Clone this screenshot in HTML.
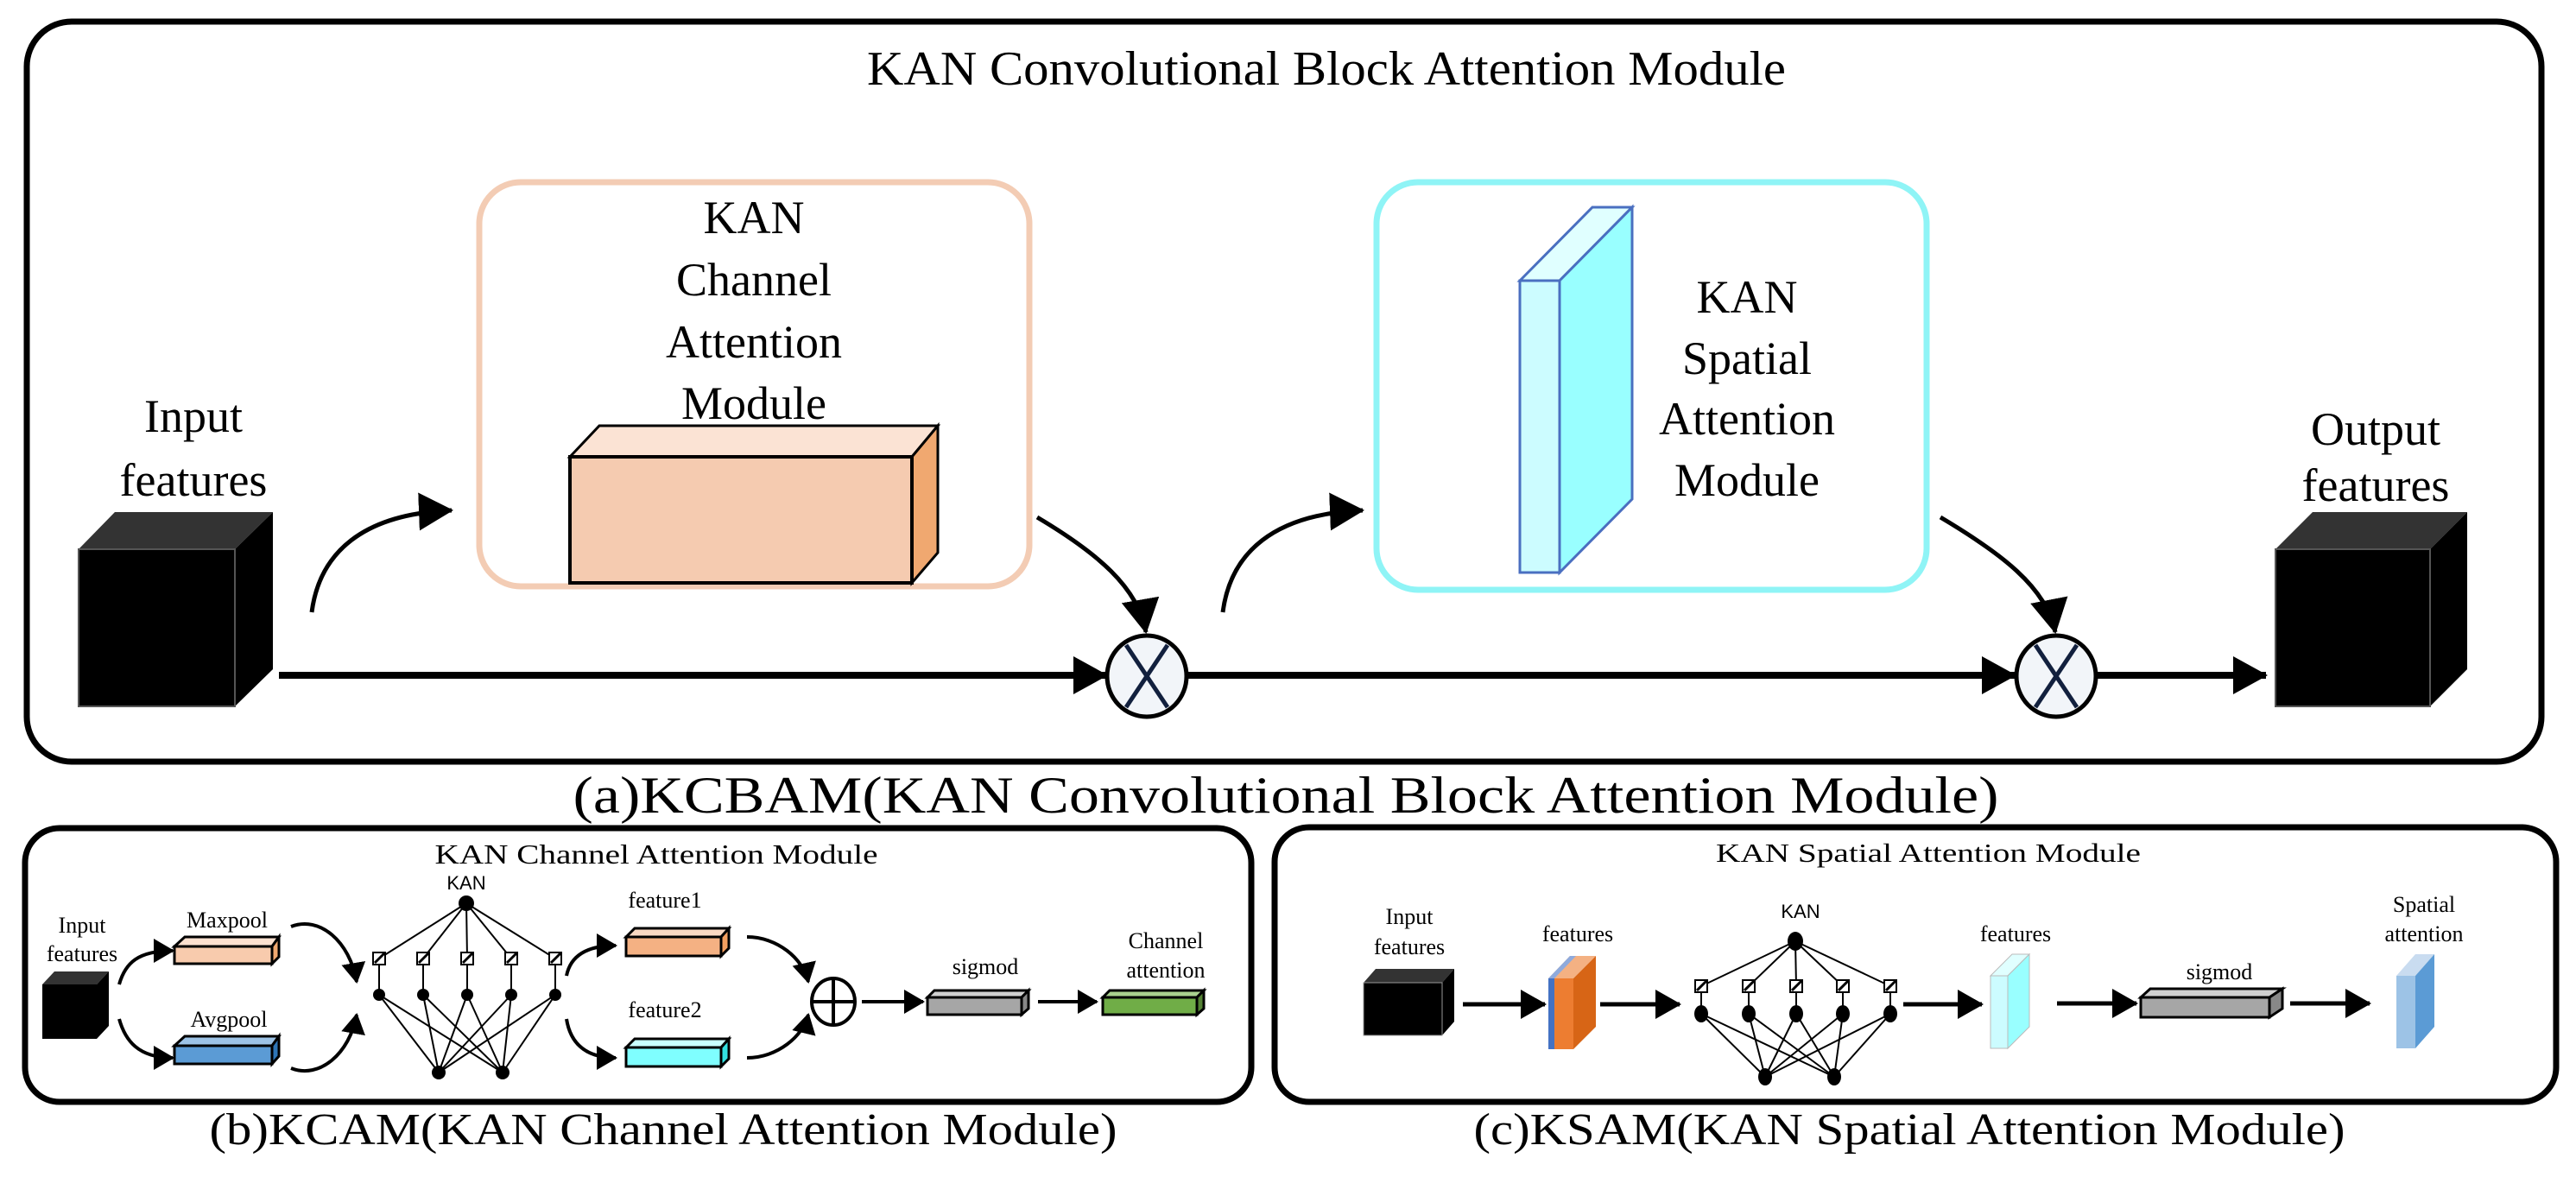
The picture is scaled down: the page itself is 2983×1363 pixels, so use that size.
<!DOCTYPE html>
<html><head><meta charset="utf-8"><style>
html,body{margin:0;padding:0;background:#fff}
svg{display:block}
text{font-family:"Liberation Serif",serif;fill:#000}
.s{font-family:"Liberation Sans",sans-serif}
</style></head><body>
<svg width="2983" height="1363" viewBox="0 0 2983 1363" xmlns="http://www.w3.org/2000/svg">
<defs>
<marker id="big" markerUnits="userSpaceOnUse" markerWidth="40" markerHeight="44" refX="38" refY="22" orient="auto"><path d="M0,0 L40,22 L0,44 z" fill="#000"/></marker>
<marker id="sm" markerUnits="userSpaceOnUse" markerWidth="24" markerHeight="28" refX="22" refY="14" orient="auto"><path d="M0,0 L24,14 L0,28 z" fill="#000"/></marker>
<marker id="md" markerUnits="userSpaceOnUse" markerWidth="30" markerHeight="34" refX="28" refY="17" orient="auto"><path d="M0,0 L30,17 L0,34 z" fill="#000"/></marker>
</defs>

<!-- (a) outer -->
<rect x="31" y="25" width="2912" height="857" rx="52" fill="#fff" stroke="#000" stroke-width="7"/>
<text x="1536" y="98" font-size="56" text-anchor="middle" textLength="1064" lengthAdjust="spacingAndGlyphs">KAN Convolutional Block Attention Module</text>

<!-- channel box -->
<rect x="555" y="211" width="637" height="468" rx="48" fill="#fff" stroke="#f3ccb4" stroke-width="7"/>
<g font-size="54" text-anchor="middle">
<text x="873" y="270">KAN</text><text x="873" y="342">Channel</text><text x="873" y="414">Attention</text><text x="873" y="485">Module</text>
</g>
<polygon points="660,529 694,493 1086,493 1056,529" fill="#fbe3d4" stroke="#000" stroke-width="3"/>
<polygon points="1056,529 1086,493 1086,640 1056,675" fill="#f0a870" stroke="#000" stroke-width="3"/>
<rect x="660" y="529" width="396" height="146" fill="#f5cbb0" stroke="#000" stroke-width="4"/>

<!-- spatial box -->
<rect x="1594" y="211" width="637" height="472" rx="48" fill="#fff" stroke="#8ff4f6" stroke-width="7"/>
<polygon points="1760,325 1844,240 1890,240 1806,325" fill="#e0ffff" stroke="#4a6fc0" stroke-width="3"/>
<polygon points="1806,325 1890,240 1890,578 1806,663" fill="#99ffff" stroke="#4a6fc0" stroke-width="3"/>
<rect x="1760" y="325" width="46" height="338" fill="#ccfcff" stroke="#4a6fc0" stroke-width="3"/>
<g font-size="54" text-anchor="middle">
<text x="2023" y="362">KAN</text><text x="2023" y="433">Spatial</text><text x="2023" y="503">Attention</text><text x="2023" y="574">Module</text>
</g>

<!-- input/output cubes -->
<g font-size="54" text-anchor="middle">
<text x="224" y="500">Input</text><text x="224" y="574">features</text>
<text x="2751" y="515">Output</text><text x="2751" y="580">features</text>
</g>
<polygon points="91,636 133,593 316,593 272,636" fill="#333"/>
<polygon points="272,636 316,593 316,775 272,818" fill="#000"/>
<rect x="91" y="636" width="181" height="182" fill="#000" stroke="#555" stroke-width="2"/>
<polygon points="2635,636 2678,593 2857,593 2814,636" fill="#333"/>
<polygon points="2814,636 2857,593 2857,775 2814,818" fill="#000"/>
<rect x="2635" y="636" width="179" height="182" fill="#000" stroke="#555" stroke-width="2"/>

<!-- main lines -->
<g stroke="#000" stroke-width="8" fill="none">
<line x1="323" y1="782" x2="1281" y2="782" marker-end="url(#big)"/>
<line x1="1375" y1="782" x2="2333" y2="782" marker-end="url(#big)"/>
<line x1="2427" y1="782" x2="2624" y2="782" marker-end="url(#big)"/>
</g>
<g stroke="#000" stroke-width="5" fill="none">
<path d="M361,709 C370,640 420,595 523,591" marker-end="url(#big)"/>
<path d="M1416,709 C1425,640 1475,595 1578,591" marker-end="url(#big)"/>
<path d="M1201,599 C1270,640 1318,680 1327,732" marker-end="url(#big)"/>
<path d="M2247,599 C2316,640 2370,680 2380,732" marker-end="url(#big)"/>
</g>
<g>
<ellipse cx="1328" cy="783" rx="46" ry="47" fill="#f2f5f9" stroke="#000" stroke-width="5"/>
<line x1="1304" y1="747" x2="1352" y2="819" stroke="#12203e" stroke-width="5"/>
<line x1="1352" y1="747" x2="1304" y2="819" stroke="#12203e" stroke-width="5"/>
<ellipse cx="2381" cy="783" rx="46" ry="47" fill="#f2f5f9" stroke="#000" stroke-width="5"/>
<line x1="2357" y1="747" x2="2405" y2="819" stroke="#12203e" stroke-width="5"/>
<line x1="2405" y1="747" x2="2357" y2="819" stroke="#12203e" stroke-width="5"/>
</g>
<text x="1489" y="941" font-size="60" text-anchor="middle" textLength="1651" lengthAdjust="spacingAndGlyphs">(a)KCBAM(KAN Convolutional Block Attention Module)</text>

<!-- (b) -->
<rect x="29" y="959" width="1420" height="317" rx="40" fill="#fff" stroke="#000" stroke-width="7"/>
<text x="760" y="1000" font-size="32" text-anchor="middle" textLength="513" lengthAdjust="spacingAndGlyphs">KAN Channel Attention Module</text>
<g font-size="26" text-anchor="middle">
<text x="95" y="1080">Input</text><text x="95" y="1113">features</text>
<text x="263" y="1074">Maxpool</text><text x="265" y="1189">Avgpool</text>
<text x="770" y="1051">feature1</text><text x="770" y="1178">feature2</text>
<text x="1141" y="1128">sigmod</text>
<text x="1350" y="1098">Channel</text><text x="1350" y="1132">attention</text>
</g>
<text class="s" x="540" y="1030" font-size="22" text-anchor="middle">KAN</text>
<!-- small cube -->
<polygon points="49,1140 63,1125 126,1125 112,1140" fill="#333"/>
<polygon points="112,1140 126,1125 126,1188 112,1203" fill="#000"/>
<rect x="49" y="1140" width="63" height="63" fill="#000"/>
<!-- bars -->
<g stroke="#000" stroke-width="3">
<polygon points="202,1096 214,1085 323,1085 315,1096" fill="#fde1d0"/>
<polygon points="315,1096 323,1085 323,1108 315,1116" fill="#f0a870"/>
<rect x="202" y="1096" width="113" height="20" fill="#f8cbad"/>
<polygon points="202,1211 214,1200 323,1200 315,1211" fill="#9dc3e6"/>
<polygon points="315,1211 323,1200 323,1223 315,1232" fill="#2e75b6"/>
<rect x="202" y="1211" width="113" height="21" fill="#5b9bd5"/>
<polygon points="725,1085 735,1075 844,1075 835,1085" fill="#fbd9c3"/>
<polygon points="835,1085 844,1075 844,1098 835,1107" fill="#f4a060"/>
<rect x="725" y="1085" width="110" height="22" fill="#f4b183"/>
<polygon points="725,1213 735,1203 844,1203 835,1213" fill="#c9ffff"/>
<polygon points="835,1213 844,1203 844,1226 835,1235" fill="#33e0e0"/>
<rect x="725" y="1213" width="110" height="22" fill="#7ffeff"/>
<polygon points="1074,1155 1082,1147 1191,1147 1183,1155" fill="#d0d0d0"/>
<polygon points="1183,1155 1191,1147 1191,1168 1183,1175" fill="#888"/>
<rect x="1074" y="1155" width="109" height="20" fill="#a6a6a6"/>
<polygon points="1277,1155 1285,1147 1394,1147 1386,1155" fill="#a9d18e"/>
<polygon points="1386,1155 1394,1147 1394,1168 1386,1175" fill="#548235"/>
<rect x="1277" y="1155" width="109" height="20" fill="#70ad47"/>
</g>
<!-- arrows b -->
<g stroke="#000" stroke-width="4" fill="none">
<path d="M138,1140 C145,1115 160,1101 200,1101" marker-end="url(#sm)"/>
<path d="M138,1180 C145,1205 160,1225 200,1225" marker-end="url(#sm)"/>
<path d="M337,1073 C370,1060 405,1090 413,1137" marker-end="url(#sm)"/>
<path d="M337,1237 C370,1250 405,1220 413,1175" marker-end="url(#sm)"/>
<path d="M656,1130 C660,1110 675,1095 713,1095" marker-end="url(#sm)"/>
<path d="M656,1180 C660,1205 675,1225 713,1225" marker-end="url(#sm)"/>
<path d="M865,1085 C900,1085 930,1110 936,1137" marker-end="url(#sm)"/>
<path d="M865,1225 C900,1225 930,1200 936,1175" marker-end="url(#sm)"/>
<line x1="998" y1="1160" x2="1069" y2="1160" marker-end="url(#sm)"/>
<line x1="1202" y1="1160" x2="1270" y2="1160" marker-end="url(#sm)"/>
</g>
<ellipse cx="965" cy="1160" rx="25" ry="27" fill="#fff" stroke="#000" stroke-width="4"/>
<line x1="940" y1="1160" x2="990" y2="1160" stroke="#000" stroke-width="4"/>
<line x1="965" y1="1133" x2="965" y2="1187" stroke="#000" stroke-width="4"/>
<!-- KAN net b -->
<g stroke="#000" stroke-width="2">
<g id="netb">
<line x1="540" y1="1046" x2="439" y2="1110"/><line x1="540" y1="1046" x2="490" y2="1110"/><line x1="540" y1="1046" x2="541" y2="1110"/><line x1="540" y1="1046" x2="592" y2="1110"/><line x1="540" y1="1046" x2="643" y2="1110"/>
<line x1="439" y1="1110" x2="439" y2="1152"/><line x1="490" y1="1110" x2="490" y2="1152"/><line x1="541" y1="1110" x2="541" y2="1152"/><line x1="592" y1="1110" x2="592" y2="1152"/><line x1="643" y1="1110" x2="643" y2="1152"/>
<line x1="439" y1="1152" x2="508" y2="1242"/><line x1="439" y1="1152" x2="582" y2="1242"/>
<line x1="490" y1="1152" x2="508" y2="1242"/><line x1="490" y1="1152" x2="582" y2="1242"/>
<line x1="541" y1="1152" x2="508" y2="1242"/><line x1="541" y1="1152" x2="582" y2="1242"/>
<line x1="592" y1="1152" x2="508" y2="1242"/><line x1="592" y1="1152" x2="582" y2="1242"/>
<line x1="643" y1="1152" x2="508" y2="1242"/><line x1="643" y1="1152" x2="582" y2="1242"/>
</g>
</g>
<g fill="#000">
<circle cx="540" cy="1046" r="9"/>
<circle cx="439" cy="1152" r="7"/><circle cx="490" cy="1152" r="7"/><circle cx="541" cy="1152" r="7"/><circle cx="592" cy="1152" r="7"/><circle cx="643" cy="1152" r="7"/>
<circle cx="508" cy="1242" r="8"/><circle cx="582" cy="1242" r="8"/>
</g>
<g fill="#fff" stroke="#000" stroke-width="2">
<rect x="432" y="1103" width="14" height="14"/><rect x="483" y="1103" width="14" height="14"/><rect x="534" y="1103" width="14" height="14"/><rect x="585" y="1103" width="14" height="14"/><rect x="636" y="1103" width="14" height="14"/>
</g>
<g stroke="#000" stroke-width="3"><line x1="434" y1="1115" x2="446" y2="1103"/><line x1="485" y1="1115" x2="497" y2="1103"/><line x1="536" y1="1115" x2="548" y2="1103"/><line x1="587" y1="1115" x2="599" y2="1103"/><line x1="638" y1="1115" x2="650" y2="1103"/></g>
<text x="768" y="1325" font-size="52" text-anchor="middle" textLength="1051" lengthAdjust="spacingAndGlyphs">(b)KCAM(KAN Channel Attention Module)</text>

<!-- (c) -->
<rect x="1476" y="958" width="1484" height="318" rx="40" fill="#fff" stroke="#000" stroke-width="7"/>
<text x="2233" y="998" font-size="31" text-anchor="middle" textLength="492" lengthAdjust="spacingAndGlyphs">KAN Spatial Attention Module</text>
<g font-size="26" text-anchor="middle">
<text x="1632" y="1070">Input</text><text x="1632" y="1105">features</text>
<text x="1827" y="1090">features</text><text x="2334" y="1090">features</text>
<text x="2570" y="1134">sigmod</text>
<text x="2807" y="1056">Spatial</text><text x="2807" y="1090">attention</text>
</g>
<text class="s" x="2085" y="1063" font-size="22" text-anchor="middle">KAN</text>
<polygon points="1579,1138 1593,1122 1684,1122 1670,1138" fill="#333"/>
<polygon points="1670,1138 1684,1122 1684,1183 1670,1199" fill="#000"/>
<rect x="1579" y="1138" width="91" height="61" fill="#000" stroke="#999" stroke-width="1"/>
<!-- features slab orange -->
<polygon points="1793,1133 1818,1107 1848,1107 1822,1133" fill="#f4b183"/>
<polygon points="1793,1133 1818,1107 1825,1107 1800,1133" fill="#8faadc"/>
<polygon points="1822,1133 1848,1107 1848,1189 1822,1215" fill="#d76516"/>
<rect x="1800" y="1133" width="22" height="82" fill="#ed7d31"/>
<rect x="1793" y="1133" width="7" height="82" fill="#4472c4"/>
<!-- cyan slab -->
<polygon points="2305,1130 2330,1105 2350,1105 2325,1130" fill="#e0ffff" stroke="#bbb" stroke-width="1"/>
<polygon points="2325,1130 2350,1105 2350,1189 2325,1214" fill="#99ffff" stroke="#bbb" stroke-width="1"/>
<rect x="2305" y="1130" width="20" height="84" fill="#ccfcff" stroke="#bbb" stroke-width="1"/>
<!-- spatial attention slab -->
<polygon points="2775,1130 2797,1105 2819,1105 2797,1130" fill="#c9dcf0"/>
<polygon points="2797,1130 2819,1105 2819,1189 2797,1214" fill="#5b9bd5"/>
<rect x="2775" y="1130" width="22" height="84" fill="#9dc3e6"/>
<!-- sigmod box -->
<g stroke="#000" stroke-width="3">
<polygon points="2479,1155 2490,1145 2643,1145 2628,1155" fill="#d0d0d0"/>
<polygon points="2628,1155 2643,1145 2643,1168 2628,1178" fill="#888"/>
<rect x="2479" y="1155" width="149" height="23" fill="#a6a6a6"/>
</g>
<g stroke="#000" stroke-width="5" fill="none">
<line x1="1694" y1="1163" x2="1789" y2="1163" marker-end="url(#md)"/>
<line x1="1853" y1="1163" x2="1945" y2="1163" marker-end="url(#md)"/>
<line x1="2204" y1="1163" x2="2295" y2="1163" marker-end="url(#md)"/>
<line x1="2382" y1="1162" x2="2474" y2="1162" marker-end="url(#md)"/>
<line x1="2652" y1="1162" x2="2744" y2="1162" marker-end="url(#md)"/>
</g>
<g stroke="#000" stroke-width="2">
<line x1="2079" y1="1090" x2="1970" y2="1142"/><line x1="2079" y1="1090" x2="2025" y2="1142"/><line x1="2079" y1="1090" x2="2080" y2="1142"/><line x1="2079" y1="1090" x2="2134" y2="1142"/><line x1="2079" y1="1090" x2="2189" y2="1142"/>
<line x1="1970" y1="1142" x2="1970" y2="1174"/><line x1="2025" y1="1142" x2="2025" y2="1174"/><line x1="2080" y1="1142" x2="2080" y2="1174"/><line x1="2134" y1="1142" x2="2134" y2="1174"/><line x1="2189" y1="1142" x2="2189" y2="1174"/>
<line x1="1970" y1="1174" x2="2044" y2="1247"/><line x1="1970" y1="1174" x2="2124" y2="1247"/>
<line x1="2025" y1="1174" x2="2044" y2="1247"/><line x1="2025" y1="1174" x2="2124" y2="1247"/>
<line x1="2080" y1="1174" x2="2044" y2="1247"/><line x1="2080" y1="1174" x2="2124" y2="1247"/>
<line x1="2134" y1="1174" x2="2044" y2="1247"/><line x1="2134" y1="1174" x2="2124" y2="1247"/>
<line x1="2189" y1="1174" x2="2044" y2="1247"/><line x1="2189" y1="1174" x2="2124" y2="1247"/>
</g>
<g fill="#000">
<ellipse cx="2079" cy="1090" rx="9" ry="11"/>
<ellipse cx="1970" cy="1174" rx="8" ry="10"/><ellipse cx="2025" cy="1174" rx="8" ry="10"/><ellipse cx="2080" cy="1174" rx="8" ry="10"/><ellipse cx="2134" cy="1174" rx="8" ry="10"/><ellipse cx="2189" cy="1174" rx="8" ry="10"/>
<ellipse cx="2044" cy="1247" rx="8" ry="10"/><ellipse cx="2124" cy="1247" rx="8" ry="10"/>
</g>
<g fill="#fff" stroke="#000" stroke-width="2">
<rect x="1963" y="1135" width="14" height="14"/><rect x="2018" y="1135" width="14" height="14"/><rect x="2073" y="1135" width="14" height="14"/><rect x="2127" y="1135" width="14" height="14"/><rect x="2182" y="1135" width="14" height="14"/>
</g>
<g stroke="#000" stroke-width="3"><line x1="1965" y1="1147" x2="1977" y2="1135"/><line x1="2020" y1="1147" x2="2032" y2="1135"/><line x1="2075" y1="1147" x2="2087" y2="1135"/><line x1="2129" y1="1147" x2="2141" y2="1135"/><line x1="2184" y1="1147" x2="2196" y2="1135"/></g>
<text x="2211" y="1325" font-size="52" text-anchor="middle" textLength="1009" lengthAdjust="spacingAndGlyphs">(c)KSAM(KAN Spatial Attention Module)</text>
</svg>
</body></html>
